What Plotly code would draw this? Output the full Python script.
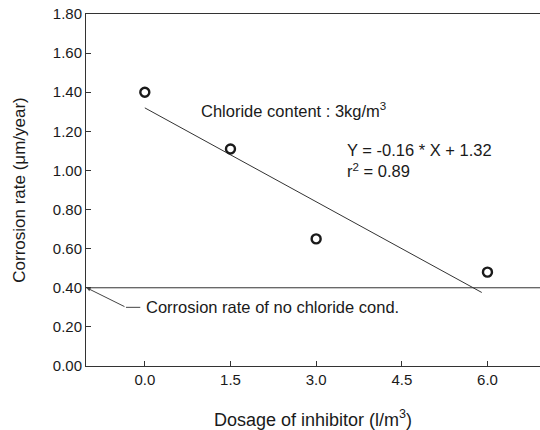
import plotly.graph_objects as go

dosage = [0.0, 1.5, 3.0, 6.0]
corrosion_rate = [1.40, 1.11, 0.65, 0.48]
fit_slope = -0.16
fit_intercept = 1.32
fit_x = [0.0, 5.9]
no_chloride_rate = 0.40
x_ticks = [0.0, 1.5, 3.0, 4.5, 6.0]
y_ticks = [0.0, 0.2, 0.4, 0.6, 0.8, 1.0, 1.2, 1.4, 1.6, 1.8]

FONT = "Liberation Sans, Arial, sans-serif"
INK = "#1a1a1a"

fig = go.Figure()
fig.add_trace(go.Scatter(
    x=fit_x, y=[fit_slope * v + fit_intercept for v in fit_x],
    mode="lines", line=dict(color="#333", width=1), showlegend=False))
fig.add_trace(go.Scatter(
    x=dosage, y=corrosion_rate, mode="markers",
    marker=dict(symbol="circle-open", size=9, color=INK, line=dict(width=2.4, color=INK)),
    showlegend=False))

fig.add_hline(y=no_chloride_rate, line=dict(color="#333", width=1))

fig.add_annotation(x=-0.02, y=0.30, xref="x", yref="y", text="Corrosion rate of no chloride cond.",
                   showarrow=False, xanchor="left", yanchor="middle", font=dict(size=16.5, color=INK, family=FONT))
fig.add_annotation(x=-1.02, y=0.40, ax=-0.33, ay=0.30, xref="x", yref="y", axref="x", ayref="y",
                   text="", showarrow=True, arrowhead=2, arrowsize=0.8, arrowwidth=1, arrowcolor="#444")
fig.add_shape(type="line", x0=-0.33, y0=0.30, x1=-0.08, y1=0.30, xref="x", yref="y",
              line=dict(color="#444", width=1))
fig.add_annotation(x=0.95, y=1.31, xref="x", yref="y", text="Chloride content : 3kg/m<sup>3</sup>",
                   showarrow=False, xanchor="left", yanchor="middle", font=dict(size=16.5, color=INK, family=FONT))
fig.add_annotation(x=3.5, y=1.05, xref="x", yref="y", text="Y = -0.16 * X + 1.32<br>r<sup>2</sup> = 0.89",
                   showarrow=False, xanchor="left", yanchor="middle", align="left",
                   font=dict(size=16.5, color=INK, family=FONT))

fig.update_layout(
    width=540, height=430,
    margin=dict(l=86, r=0, t=14, b=64),
    plot_bgcolor="white", paper_bgcolor="white",
    font=dict(family=FONT, size=15, color=INK),
    xaxis=dict(range=[-1.03, 6.92], tickvals=x_ticks, tickformat=".1f", automargin=False,
               showgrid=False, zeroline=False, showline=True, linecolor="#333", linewidth=1,
               mirror=True, ticks="inside", ticklen=5, tickcolor="#333", ticklabeloverflow="allow",
               title=dict(text="Dosage of inhibitor (l/m<sup>3</sup>)", font=dict(size=18), standoff=28)),
    yaxis=dict(range=[0, 1.8], tickvals=y_ticks, tickformat=".2f", automargin=False,
               showgrid=False, zeroline=False, showline=True, linecolor="#333", linewidth=1,
               ticks="inside", ticklen=5, tickcolor="#333", ticklabeloverflow="allow",
               title=dict(text="Corrosion rate (μm/year)", font=dict(size=17), standoff=22)),
)

fig.write_html("out.html", config={"displayModeBar": False},
               post_script="document.body.style.margin='0px';document.body.style.overflow='hidden';")
